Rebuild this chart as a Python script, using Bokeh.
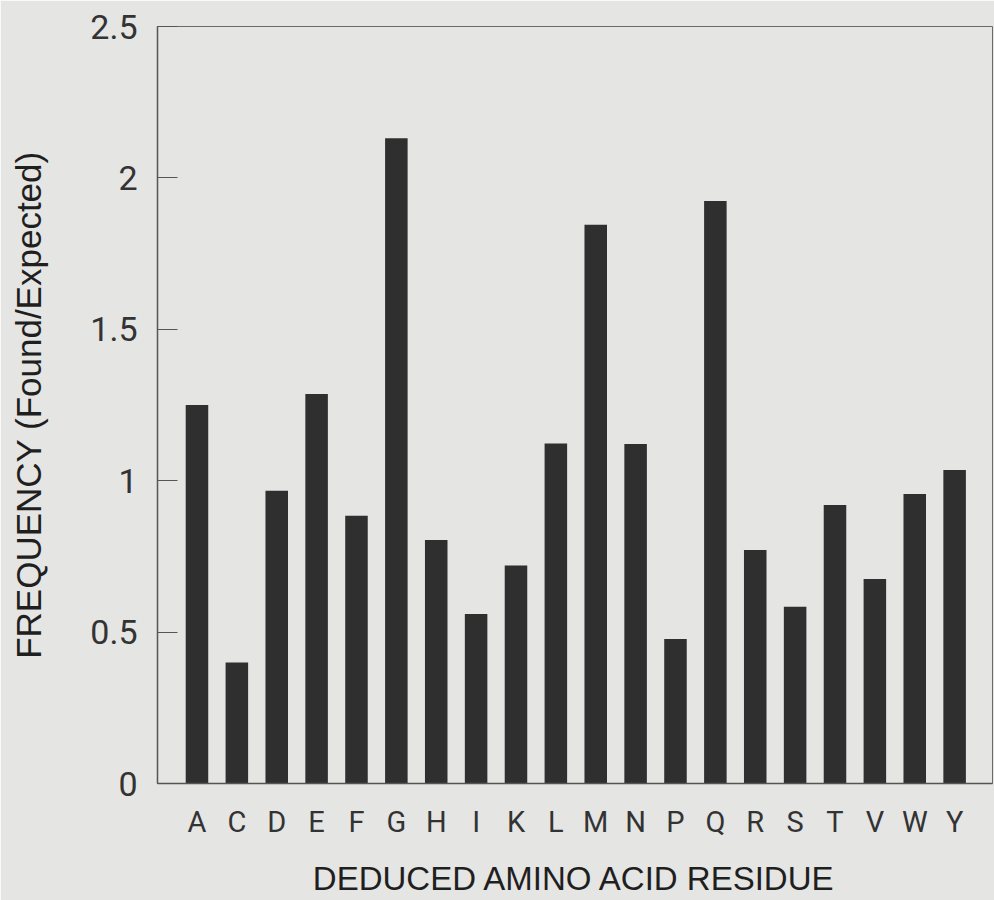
from bokeh.plotting import figure
from bokeh.models import Range1d, FixedTicker, NumeralTickFormatter
from bokeh.embed import file_html
from bokeh.resources import INLINE

residues = ["A", "C", "D", "E", "F", "G", "H", "I", "K", "L",
            "M", "N", "P", "Q", "R", "S", "T", "V", "W", "Y"]
frequency = [1.25, 0.40, 0.967, 1.286, 0.884, 2.131, 0.804, 0.56, 0.72, 1.123,
             1.845, 1.121, 0.477, 1.924, 0.771, 0.584, 0.92, 0.675, 0.956, 1.035]
y_ticks = [0, 0.5, 1, 1.5, 2, 2.5]

positions = list(range(1, len(residues) + 1))

BG = "#e5e5e3"
INK = "#2f2f2f"

p = figure(width=994, height=900, output_backend="svg", toolbar_location=None,
           x_range=Range1d(0.01, 20.95), y_range=Range1d(0, 2.5),
           min_border_left=157, min_border_right=2, min_border_top=26, min_border_bottom=117)
p.background_fill_color = BG
p.border_fill_color = BG
p.outline_line_color = "#6a6a6a"
p.outline_line_width = 1
p.grid.visible = False

p.vbar(x=positions, top=frequency, bottom=0, width=0.565, fill_color=INK, line_color=None)

# x axis
xa = p.xaxis[0]
xa.ticker = FixedTicker(ticks=positions)
xa.major_label_overrides = {i: r for i, r in zip(positions, residues)}
xa.major_tick_line_color = None
xa.minor_tick_line_color = None
xa.axis_line_color = "#555555"
xa.axis_line_width = 1.5
xa.major_label_text_font = "Roboto"
xa.major_label_text_font_size = "29px"
xa.major_label_text_color = "#333333"
xa.major_label_standoff = 15
xa.axis_label = "DEDUCED AMINO ACID RESIDUE"
xa.axis_label_text_font = "Liberation Sans"
xa.axis_label_text_font_style = "normal"
xa.axis_label_text_font_size = "33px"
xa.axis_label_text_color = "#1f1f1f"
xa.axis_label_standoff = 18

# y axis
ya = p.yaxis[0]
ya.ticker = FixedTicker(ticks=y_ticks)
ya.formatter = NumeralTickFormatter(format="0.[0]")
ya.major_tick_in = 20
ya.major_tick_out = 0
ya.major_tick_line_color = "#555555"
ya.major_tick_line_width = 1
ya.minor_tick_line_color = None
ya.axis_line_color = "#555555"
ya.axis_line_width = 1.5
ya.major_label_text_font = "Roboto"
ya.major_label_text_font_size = "34px"
ya.major_label_text_color = "#333333"
ya.major_label_standoff = 20
ya.axis_label = "FREQUENCY (Found/Expected)"
ya.axis_label_text_font = "Liberation Sans"
ya.axis_label_text_font_style = "normal"
ya.axis_label_text_font_size = "35px"
ya.axis_label_text_color = "#1f1f1f"
ya.axis_label_standoff = 39

open("out.html", "w").write(file_html(p, INLINE))
